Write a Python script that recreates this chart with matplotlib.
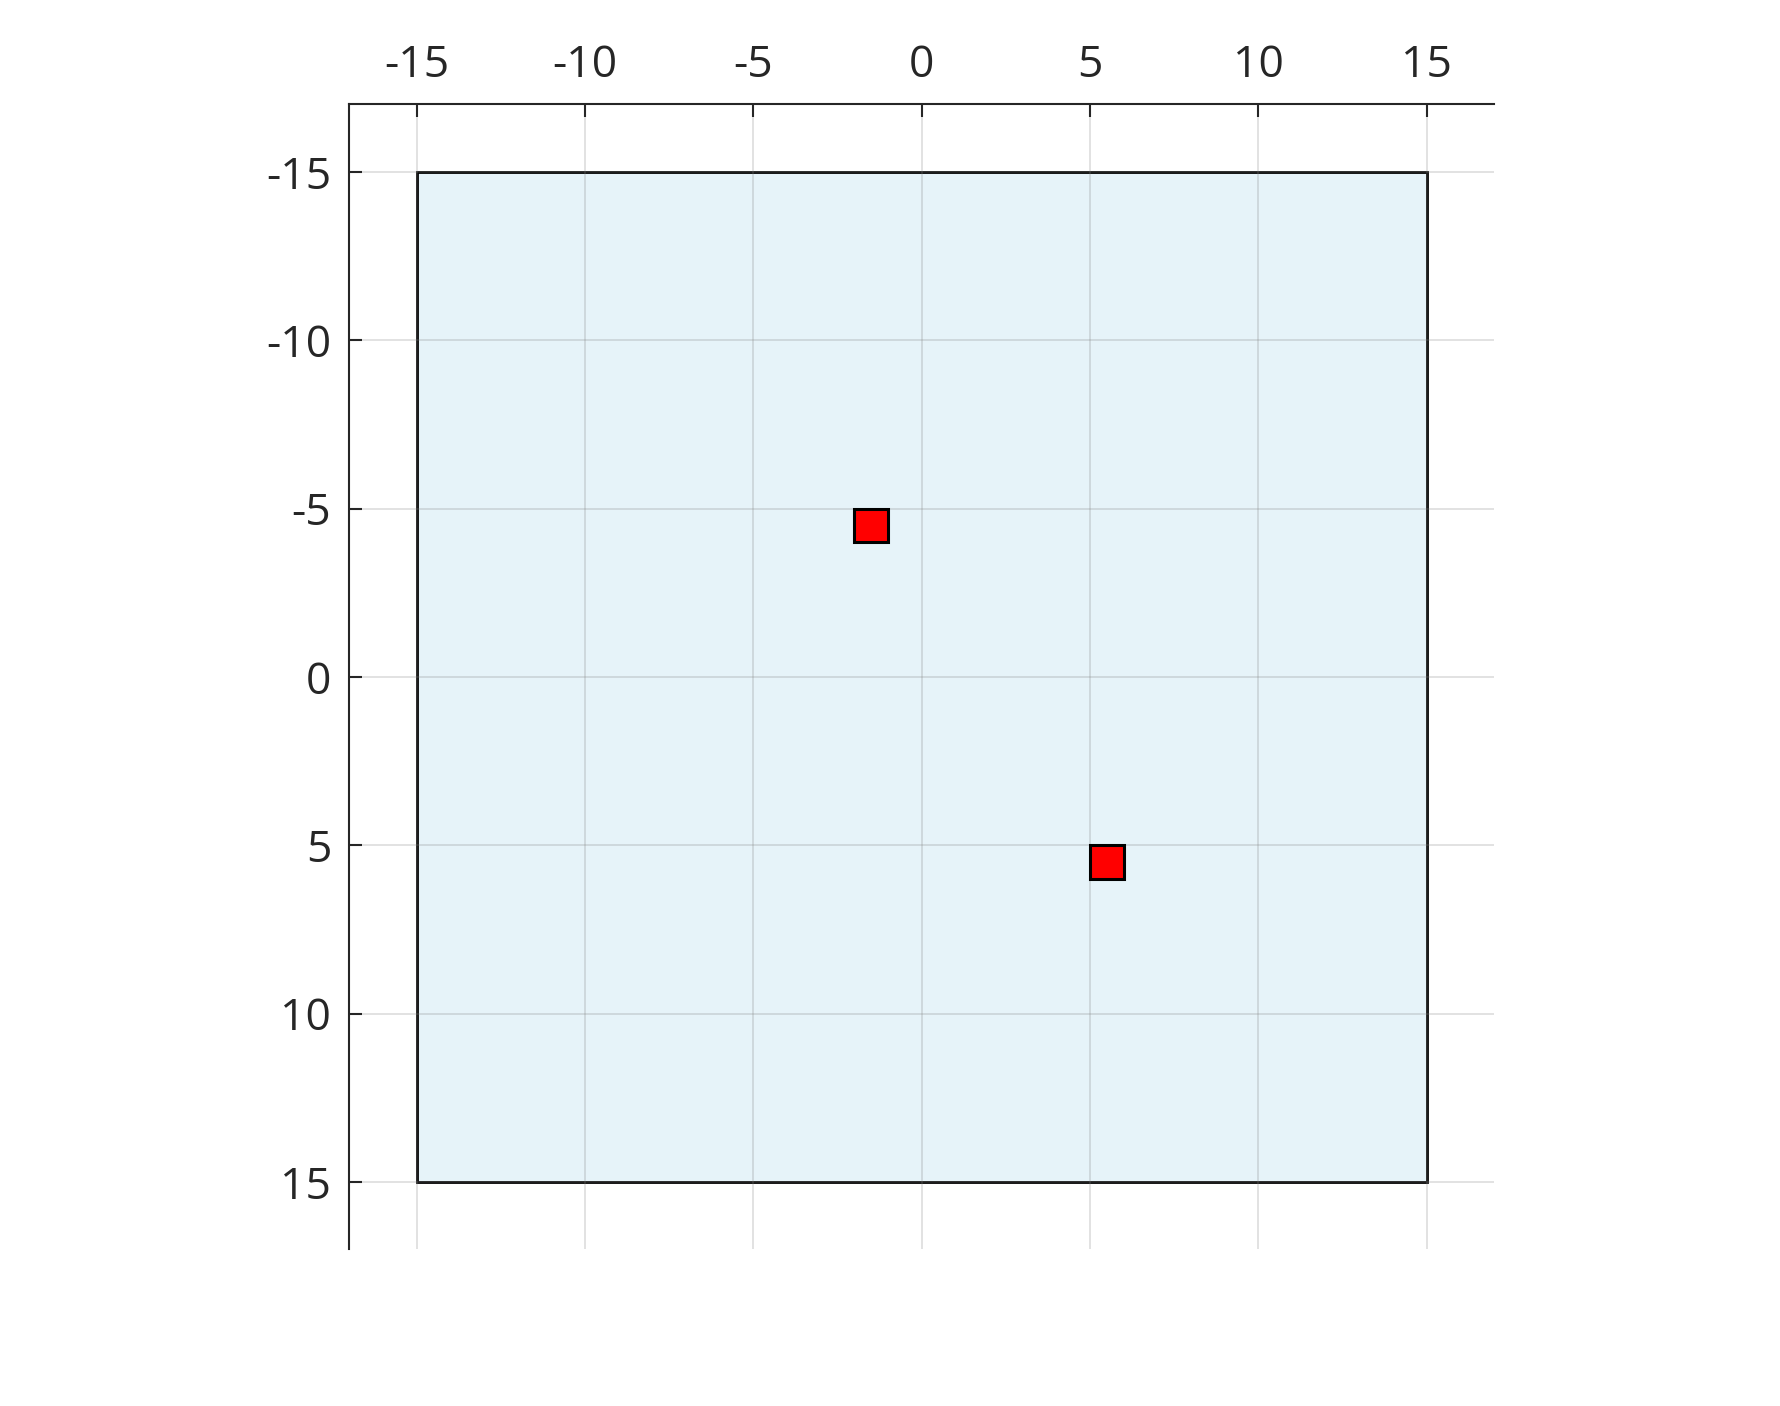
import matplotlib
matplotlib.use("Agg")
import matplotlib.pyplot as plt
from matplotlib.patches import Rectangle

plt.rcParams['font.family'] = ['Open Sans', 'DejaVu Sans']
plt.rcParams['axes.unicode_minus'] = False

# grid board and occupied cells (lower-left corner of each 1x1 cell)
board_min, board_max = -15, 15
cell_x = [-2, 5]
cell_y = [-5, 5]
ticks = [-15, -10, -5, 0, 5, 10, 15]

fig = plt.figure(figsize=(17.81, 14.06), dpi=100)
ax = fig.add_axes([0.1958, 0.1114, 0.6435, 0.8143])

ax.add_patch(Rectangle((board_min, board_min), board_max - board_min, board_max - board_min,
                       facecolor='#e6f3f9', edgecolor='black', linewidth=2, zorder=1))
for cx, cy in zip(cell_x, cell_y):
    ax.add_patch(Rectangle((cx, cy), 1, 1, facecolor='red', edgecolor='black',
                           linewidth=2.2, zorder=3))

ax.set_xlim(-17, 17)
ax.set_ylim(17, -17)
ax.set_aspect('equal')
ax.set_xticks(ticks)
ax.set_yticks(ticks)
ax.xaxis.tick_top()
ax.grid(True, color='gray', alpha=0.25, linewidth=1.3)

for side in ['right', 'bottom']:
    ax.spines[side].set_visible(False)
for side in ['left', 'top']:
    ax.spines[side].set_linewidth(1.5)
    ax.spines[side].set_color('#262626')

ax.tick_params(axis='x', direction='in', length=9, width=1.5, pad=12,
               labelsize=32, colors='#262626')
ax.tick_params(axis='y', direction='in', length=9, width=1.5, pad=13,
               labelsize=32, colors='#262626')

fig.savefig("out.png", dpi=100)
